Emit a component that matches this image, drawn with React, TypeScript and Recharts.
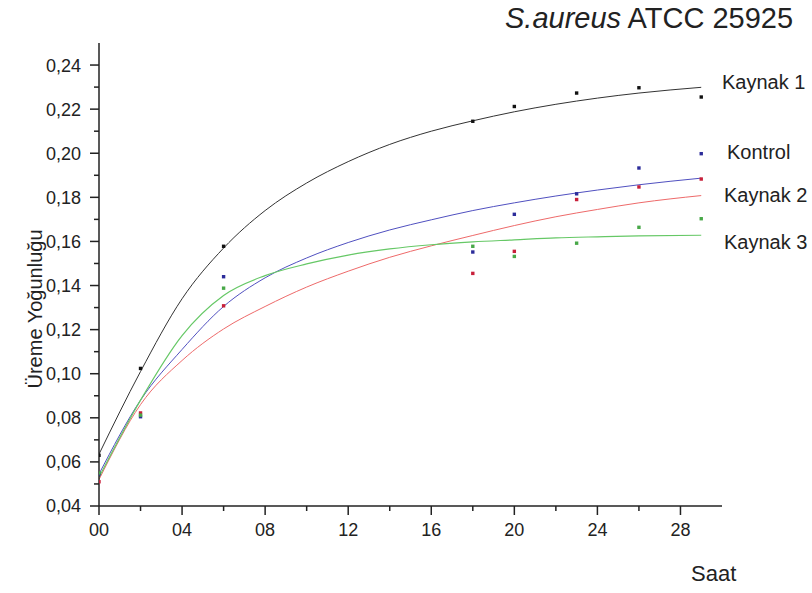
import React from 'react';
import { ComposedChart, Line, Scatter, XAxis, YAxis } from 'recharts';

// Measured points (hours)
const hours = [0, 2, 6, 18, 20, 23, 26, 29];
const kaynak1Points = [0.063, 0.1024, 0.1578, 0.2145, 0.2212, 0.2273, 0.2297, 0.2255];
const kontrolPoints = [0.0545, 0.0805, 0.144, 0.1552, 0.1723, 0.1816, 0.1933, 0.1998];
const kaynak2Points = [0.051, 0.0822, 0.1308, 0.1455, 0.1555, 0.179, 0.1847, 0.1883];
const kaynak3Points = [0.055, 0.0812, 0.1388, 0.1578, 0.1532, 0.1592, 0.1664, 0.1703];

// Fitted curves
const curveHours = [0, 2, 4, 6, 8, 10, 12, 14, 16, 18, 20, 22, 24, 26, 29];
const kaynak1Curve = [0.0635, 0.101, 0.134, 0.157, 0.174, 0.1865, 0.1962, 0.204, 0.21, 0.2147, 0.2188, 0.2222, 0.225, 0.2273, 0.2299];
const kontrolCurve = [0.0545, 0.088, 0.111, 0.1305, 0.1435, 0.1525, 0.1595, 0.1652, 0.1698, 0.174, 0.1775, 0.1806, 0.1833, 0.1857, 0.1887];
const kaynak2Curve = [0.052, 0.086, 0.106, 0.1203, 0.1305, 0.1393, 0.1465, 0.1528, 0.158, 0.1627, 0.1672, 0.1712, 0.1745, 0.1775, 0.1808];
const kaynak3Curve = [0.053, 0.088, 0.1173, 0.1355, 0.1445, 0.1498, 0.1538, 0.1566, 0.1585, 0.1598, 0.1607, 0.1616, 0.1621, 0.1625, 0.1628];

const xTicks = [0, 2, 4, 6, 8, 10, 12, 14, 16, 18, 20, 22, 24, 26, 28];
const yTicks = [0.04, 0.05, 0.06, 0.07, 0.08, 0.09, 0.1, 0.11, 0.12, 0.13, 0.14, 0.15, 0.16, 0.17, 0.18, 0.19, 0.2, 0.21, 0.22, 0.23, 0.24];

const title = { italic: 'S.aureus', rest: ' ATCC 25925' };
const yTitle = 'Üreme Yoğunluğu';
const xTitle = 'Saat';
const seriesNames = ['Kaynak 1', 'Kontrol', 'Kaynak 2', 'Kaynak 3'];

const FONT = '"Liberation Sans", Arial, sans-serif';
const AX = '#222';

const toXY = (xs: number[], ys: number[]) => xs.map((x, i) => ({ x, y: ys[i] }));

const XTick = (props: any) => {
  const { x, y, payload } = props;
  const v = payload.value as number;
  const major = v % 4 === 0;
  return (
    <g>
      <line x1={x} x2={x} y1={y} y2={y + (major ? 9 : 5)} stroke={AX} strokeWidth={1.5} />
      {major && (
        <text x={x} y={y + 30} textAnchor="middle" fontSize={18} fill={AX} fontFamily={FONT}>
          {String(v).padStart(2, '0')}
        </text>
      )}
    </g>
  );
};

const YTick = (props: any) => {
  const { x, y, payload } = props;
  const v = payload.value as number;
  const major = Math.round(v * 100) % 2 === 0;
  return (
    <g>
      <line x1={x - (major ? 9 : 5)} x2={x} y1={y} y2={y} stroke={AX} strokeWidth={1.5} />
      {major && (
        <text x={x - 18} y={y} dy="0.36em" textAnchor="end" fontSize={18} fill={AX} fontFamily={FONT}>
          {v.toFixed(2).replace('.', ',')}
        </text>
      )}
    </g>
  );
};

const sq = (color: string) => (p: any) => (
  <rect x={p.cx - 1.7} y={p.cy - 1.7} width={3.4} height={3.4} fill={color} />
);

export default function App() {
  return (
    <div style={{ position: 'absolute', left: 0, top: 0, width: 812, height: 593, background: '#fff' }}>
      <ComposedChart width={812} height={593} margin={{ top: 43, right: 90, bottom: 0, left: 0 }}>
        <XAxis
          dataKey="x"
          type="number"
          domain={[0, 30]}
          ticks={xTicks}
          interval={0}
          allowDataOverflow
          height={87}
          tickSize={0}
          tickMargin={0}
          tickLine={false}
          tick={<XTick />}
          axisLine={{ stroke: AX, strokeWidth: 1.5 }}
        />
        <YAxis
          dataKey="y"
          type="number"
          domain={[0.04, 0.25]}
          ticks={yTicks}
          interval={0}
          allowDataOverflow
          width={99}
          tickSize={0}
          tickMargin={0}
          tickLine={false}
          tick={<YTick />}
          axisLine={{ stroke: AX, strokeWidth: 1.5 }}
        />
        <Line data={toXY(curveHours, kaynak1Curve)} dataKey="y" type="monotone" stroke="#333" strokeWidth={1} dot={false} isAnimationActive={false} />
        <Line data={toXY(curveHours, kontrolCurve)} dataKey="y" type="monotone" stroke="#5050c0" strokeWidth={1} dot={false} isAnimationActive={false} />
        <Line data={toXY(curveHours, kaynak2Curve)} dataKey="y" type="monotone" stroke="#ee6a6a" strokeWidth={1} dot={false} isAnimationActive={false} />
        <Line data={toXY(curveHours, kaynak3Curve)} dataKey="y" type="monotone" stroke="#66c866" strokeWidth={1.2} dot={false} isAnimationActive={false} />
        <Scatter data={toXY(hours, kaynak1Points)} dataKey="y" shape={sq('#111')} isAnimationActive={false} />
        <Scatter data={toXY(hours, kontrolPoints)} dataKey="y" shape={sq('#2c2c9a')} isAnimationActive={false} />
        <Scatter data={toXY(hours, kaynak2Points)} dataKey="y" shape={sq('#c8203a')} isAnimationActive={false} />
        <Scatter data={toXY(hours, kaynak3Points)} dataKey="y" shape={sq('#48a848')} isAnimationActive={false} />
        <text x={505} y={28} fontSize={29} fill={AX} fontFamily={FONT}>
          <tspan fontStyle="italic">{title.italic}</tspan>
          <tspan>{title.rest}</tspan>
        </text>
        <text x={35} y={309} transform="rotate(-90 35 309)" textAnchor="middle" dominantBaseline="central" fontSize={20} fill={AX} fontFamily={FONT}>
          {yTitle}
        </text>
        <text x={691} y={573} dominantBaseline="central" fontSize={22} fill={AX} fontFamily={FONT}>
          {xTitle}
        </text>
        <text x={722} y={82} dominantBaseline="central" fontSize={20} fill={AX} fontFamily={FONT}>{seriesNames[0]}</text>
        <text x={727} y={152} dominantBaseline="central" fontSize={20} fill={AX} fontFamily={FONT}>{seriesNames[1]}</text>
        <text x={724} y={195} dominantBaseline="central" fontSize={20} fill={AX} fontFamily={FONT}>{seriesNames[2]}</text>
        <text x={724} y={242} dominantBaseline="central" fontSize={20} fill={AX} fontFamily={FONT}>{seriesNames[3]}</text>
      </ComposedChart>
    </div>
  );
}
